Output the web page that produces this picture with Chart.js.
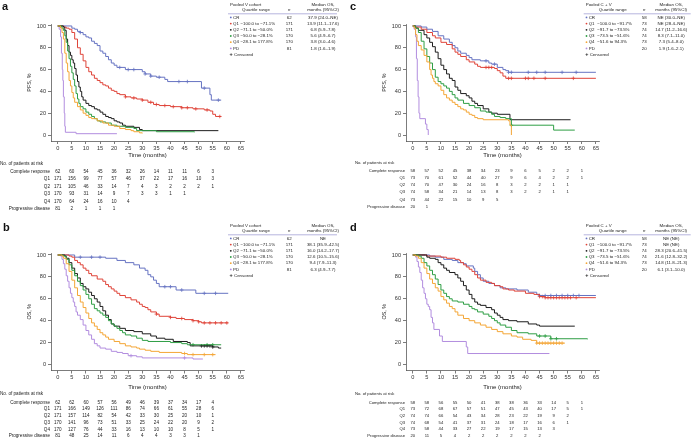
<!DOCTYPE html>
<html>
<head>
<meta charset="utf-8">
<script src="https://cdn.jsdelivr.net/npm/chart.js@4.4.0/dist/chart.umd.min.js"></script>
<style>
  html, body { margin: 0; padding: 0; background: #fff; }
  body { width: 691px; height: 442px; position: relative; overflow: hidden; }
  canvas { position: absolute; }
  #pa { left: 0; top: 0; }
  #pb { left: 0; top: 221px; }
  #pc { left: 345px; top: 0; }
  #pd { left: 345px; top: 221px; }
</style>
</head>
<body>
<canvas id="pa" width="345" height="221"></canvas>
<canvas id="pb" width="345" height="221"></canvas>
<canvas id="pc" width="346" height="221"></canvas>
<canvas id="pd" width="346" height="221"></canvas>
<script>
const FONT = '"Liberation Sans", Arial, Helvetica, sans-serif';

// groups and table text
const groups = ['CR', 'Q1', 'Q2', 'Q3', 'Q4', 'PD'];
const riskRows = ['Complete response', 'Q1', 'Q2', 'Q3', 'Q4', 'Progressive disease'];
const riskMonths = [0, 5, 10, 15, 20, 25, 30, 35, 40, 45, 50, 55, 60];
const rangesV = ['', '\u2212100.0 to \u221271.1%', '\u221271.1 to \u221250.0%', '\u221250.0 to \u221228.1%', '\u221228.1 to 177.8%', ''];
const rangesCV = ['', '\u2212100.0 to \u221291.7%', '\u221291.7 to \u221273.5%', '\u221273.5 to \u221251.6%', '\u221251.6 to 94.3%', ''];
const nV = [62, 171, 171, 170, 170, 81];
const nCV = [58, 73, 74, 74, 73, 20];
const medPfsV = ['37.9 (24.0\u2013NE)', '13.9 (11.1\u201317.6)', '6.8 (5.9\u20137.8)', '5.6 (4.9\u20136.7)', '3.8 (3.0\u20134.6)', '1.8 (1.6\u20131.9)'];
const medOsV = ['NE', '38.1 (35.9\u201342.5)', '16.0 (14.2\u201317.7)', '12.6 (10.5\u201315.6)', '9.4 (7.9\u201311.3)', '6.3 (4.9\u20137.7)'];
const medPfsCV = ['NE (30.0\u2013NE)', 'NE (28.4\u2013NE)', '14.7 (11.2\u201316.6)', '8.3 (7.1\u201311.0)', '7.3 (5.4\u20138.0)', '1.9 (1.6\u20132.1)'];
const medOsCV = ['NE (NE)', 'NE (NE)', '28.3 (20.6\u201341.5)', '21.6 (12.8\u201332.2)', '14.8 (11.8\u201321.3)', '6.1 (3.1\u201310.0)'];

// numbers at risk
const riskPfsV = [
  [62, 60, 54, 45, 36, 32, 26, 14, 11, 11, 6, 3],
  [171, 156, 99, 77, 57, 46, 37, 22, 17, 16, 10, 3],
  [171, 105, 46, 33, 14, 7, 4, 3, 2, 2, 2, 1],
  [170, 93, 31, 14, 9, 7, 3, 3, 1, 1],
  [170, 64, 24, 16, 10, 4],
  [81, 2, 1, 1, 1]
];
const riskOsV = [
  [62, 62, 60, 57, 56, 49, 46, 39, 37, 34, 17, 4],
  [171, 166, 149, 126, 111, 86, 74, 66, 61, 55, 28, 6],
  [171, 157, 114, 82, 54, 42, 33, 30, 25, 20, 10, 1],
  [170, 141, 96, 73, 51, 33, 25, 24, 22, 20, 9, 2],
  [170, 127, 76, 44, 33, 16, 13, 10, 10, 8, 5, 1],
  [81, 48, 25, 14, 11, 6, 4, 4, 3, 3, 1]
];
const riskPfsCV = [
  [58, 57, 52, 45, 38, 34, 23, 9, 6, 5, 2, 2, 1],
  [73, 70, 61, 52, 44, 40, 27, 9, 6, 4, 2, 2, 1],
  [74, 70, 47, 30, 24, 16, 8, 3, 2, 2, 1, 1],
  [74, 58, 34, 21, 14, 13, 8, 3, 2, 2, 1, 1],
  [73, 44, 22, 15, 10, 9, 5],
  [20, 1]
];
const riskOsCV = [
  [58, 58, 56, 55, 50, 41, 38, 38, 36, 33, 14, 5, 1],
  [73, 72, 68, 67, 57, 51, 47, 45, 43, 40, 17, 5, 1],
  [74, 74, 66, 54, 43, 34, 28, 23, 22, 19, 9, 2],
  [74, 68, 54, 41, 37, 31, 24, 18, 17, 16, 6, 1],
  [73, 58, 44, 33, 27, 22, 19, 17, 15, 13, 3],
  [20, 11, 5, 4, 2, 2, 2, 2, 2, 2]
];

// Kaplan-Meier steps [month, %], panel a: PFS, pooled V
const aCR = [[0,100],[5,98],[6,97],[7,95],[8,94],[9,92],[10,90],[11,89],[12,86],[13,84],[14,82],[15,77],[16,75],[17,72],[18,69],[19,66],[20,64],[21,62],[24,60],[30,58],[31,56],[33,54],[35,53],[38,51],[39,49],[51,43],[54,37],[54.5,32],[58,32]];
const aQ1 = [[0,100],[2,99],[3,98],[4,97],[5,94],[6,88],[7,80],[8,74],[9,68],[10,62],[11,58],[12,55],[13,52],[14,50],[15,48],[16,46],[17,45],[18,43],[19,41],[20,40],[21,38],[22,37],[24,35],[26,34],[28,33],[30,32],[32,30],[34,28],[36,27],[40,26],[44,25],[48,24],[52,23],[54,22],[55,19],[56,17],[58,17]];
const aQ2 = [[0,100],[2,99],[2.5,96],[3,88],[3.5,82],[4,76],[4.5,73],[5,69],[5.5,66],[6,61],[6.5,55],[7,49],[7.5,44],[8,40],[8.5,35],[9,32],[10,29],[11,27],[12,26],[13,24],[14,23],[15,21],[16,19],[17,17],[18,16],[19,15],[20,13],[21,12],[22,11],[23,9],[24,8],[27,7],[29,5],[30,4],[57,4]];
const aQ3 = [[0,100],[1.5,98],[2,96],[2.5,91],[3,85],[3.5,77],[4,70],[4.5,63],[5,57],[5.5,51],[6,45],[6.5,38],[7,33],[7.5,29],[8,26],[9,24],[10,21],[11,19],[12,17],[13,15],[14,13],[15,12],[17,11],[19,9],[21,8],[24,7],[27,6],[28,4],[35,3],[48.5,2.5]];
const aQ4 = [[0,100],[1,98],[1.5,94],[2,88],[2.5,75],[3,66],[3.5,58],[4,50],[4.5,45],[5,39],[5.5,34],[6,30],[7,26],[8,23],[9,20],[10,18],[11,16],[12,15],[14,13],[16,11],[18,9],[20,8],[22,6],[24,5],[26,4],[27,3],[29,2],[30,1.5]];
const aPD = [[0,100],[0.5,97],[1,90],[1.3,75],[1.6,60],[1.8,50],[2,35],[2.3,20],[2.5,8],[2.7,2.5],[6.5,1.2],[21,1.2]];

// panel b: OS, pooled V
const bCR = [[0,100],[5,100],[6,98],[17,97],[21,95],[24,93],[27,91],[29,88],[31,86],[32,82],[33,80],[34,77],[35,74],[36,71],[42,68],[49,65],[60.5,65]];
const bQ1 = [[0,100],[4,99],[5,98],[6,95],[7,93],[8,91],[9,88],[10,86],[11,83],[12,81],[14,78],[16,76],[17,73],[18,71],[19,69],[20,67],[21,65],[22,63],[24,61],[26,59],[28,57],[29,55],[30,53],[31,52],[32,50],[33,48],[35,46],[36,44],[40,43],[42,42],[45,41],[48,40],[50,39],[51,38],[60.5,38]];
const bQ2 = [[0,100],[2.5,99],[3,97],[4,93],[5,88],[6,83],[7,79],[8,74],[9,71],[10,69],[11,66],[12,63],[13,60],[14,57],[15,53],[16,49],[17,45],[18,41],[19,37],[20,35],[22,33],[24,31],[27,30],[30,28],[33,26],[35,24],[38,23],[41,21],[46,20],[47,17],[55,16],[57,15],[58,15]];
const bQ3 = [[0,100],[2,99],[3,96],[4,91],[5,86],[6,81],[7,76],[8,72],[9,68],[10,64],[11,60],[12,55],[13,51],[14,49],[15,47],[16,45],[17,43],[18,40],[19,37],[20,35],[21,33],[22,31],[23,29],[24,27],[26,26],[28,24],[30,22],[32,21],[40,20],[44,19],[46,18],[58,18]];
const bQ4 = [[0,100],[1.5,99],[2,97],[3,92],[4,85],[5,77],[6,70],[7,63],[8,57],[9,52],[10,47],[11,42],[12,38],[13,35],[14,32],[15,29],[16,27],[17,25],[18,23],[20,21],[22,19],[24,17],[26,16],[28,15],[29,14],[31,13],[33,12],[36,11],[44,10],[46,9],[56,9]];
const bPD = [[0,100],[1,99],[1.5,96],[2,92],[2.5,87],[3,81],[3.5,76],[4,70],[4.5,65],[5,61],[5.5,57],[6,53],[6.5,48],[7,45],[8,41],[9,36],[10,31],[11,27],[12,23],[13,19],[14,17],[15,15],[17,14],[19,12],[21,11],[23,10],[25,8],[28,7],[30,6],[47,6],[48,5],[51.5,5]];

// panel c: PFS, pooled C + V
const cCR = [[0,100],[3,99],[5,97],[7,95],[9,91],[11,88],[13,85],[14,82],[15,80],[16,77],[17,75],[19,73],[20,71],[21,69],[24,68],[27,66],[28,65],[30,62],[32,60],[33,59],[34,57.5],[65,57.5]];
const cQ1 = [[0,100],[1,99],[3,97],[5,94],[7,91],[8,89],[10,85],[12,83],[14,79],[15,76],[16,74],[17,72],[19,69],[20,67],[22,65],[23,63],[24,62],[29,61],[30,59],[31,57],[32,54],[33,52],[65,52]];
const cQ2 = [[0,100],[1,98],[2,96],[4,92],[5,89],[6,85],[7,81],[8,76],[9,70],[10,64],[11,60],[12,56],[13,52],[14,50],[15,44],[16,41],[17,38],[19,36],[20,34],[21,31],[22,29],[23,27],[25,24],[27,21],[28,20],[30,19],[34.5,14],[56,14]];
const cQ3 = [[0,100],[1,98],[2,94],[3,86],[4,79],[5,72],[6,66],[7,60],[8,53],[9,49],[10,47],[11,45],[12,43],[13,40],[14,37],[15,34],[16,32],[18,29],[20,27],[22,25],[24,22],[26,21],[28,19],[29,17],[31,16],[33,15],[35,9],[50,4.5],[57.5,4.5]];
const cQ4 = [[0,100],[0.5,98],[1,92],[1.5,86],[2,82],[3,78],[4,73],[5,67],[6,60],[6.5,55],[7,52],[7.5,49],[8,47],[9,45],[10,41],[11,37],[12,34],[13,32],[14,30],[15,28],[16,26],[17,24],[18,23],[19,21],[20,19],[21,18],[22,16],[23,15],[25,14],[34,13],[34.5,9],[35,0]];
const cPD = [[0,100],[0.5,97],[1,90],[1.3,70],[1.6,50],[1.9,35],[2.2,20],[2.5,15],[4.5,10],[5,5],[5.5,0]];

// panel d: OS, pooled C + V
const dCR = [[0,100],[6,99],[8,98],[11,96],[14,95],[16,93],[18,92],[19,90],[21.5,88],[22,85],[23,82],[24,79],[25,76],[27,74],[29,72],[31,70],[33,69],[37,68],[41,66],[44,64],[45,63],[65,63]];
const dQ1 = [[0,100],[3,100],[5,99],[10,98],[12,97],[15,96],[16.5,95],[17,93],[18,91],[19,89],[20,87],[21,85],[22,82],[23,79],[24,77],[26,75],[28,74],[29,72],[31,71],[32,69],[34,68],[36,67],[40,65],[43,64],[45,62],[47,61],[65,61]];
const dQ2 = [[0,100],[4.5,100],[5,98],[6,97],[8,96],[9,93],[10,91],[11,88],[12,86],[13,84],[15,82],[16,79],[17,76],[18,72],[19,68],[20,64],[21,60],[22,57],[23,55],[24,54],[26,52],[28,50],[29,47],[30,45],[31,43],[32,41],[34,40],[37,39],[41,37],[44,36],[45,35],[57.5,35]];
const dQ3 = [[0,100],[2,99],[3,97],[4,93],[5,90],[6,86],[7,82],[8,78],[9,73],[10,68],[11,65],[12,62],[13,60],[14,58],[16,57],[18,55],[20,53],[21,51],[22,50],[23,48],[25,46],[27,44],[28,42],[29,40],[30,38],[31,36],[33,34],[35,31],[37,29],[41,28],[44,26],[49,23.5],[62,23]];
const dQ4 = [[0,100],[1,99],[2,97],[3,93],[4,88],[5,83],[6,78],[7,74],[8,70],[9,67],[10,62],[11,59],[12,56],[13,53],[14,51],[15,48],[16,45],[18,42],[20,40],[22,38],[24,36],[26,34],[28,32],[30,30],[32,28],[35,26],[37,25],[39,23],[42,22],[44,19.5],[54,19.5]];
const dPD = [[0,100],[1,98],[1.5,94],[2,89],[2.5,84],[3,77],[3.5,70],[4,65],[4.5,60],[5,55],[5.5,53],[6,50],[6.5,43],[7,38],[7.5,32],[9.5,26],[10.5,21],[19,16],[19.5,10],[48.5,10]];

// censoring times (months), [group index, times]
const aCens = [[0, [8, 22, 25, 27, 31, 33, 36, 43, 46, 52, 57]], [1, [24, 27, 30, 33, 35, 38, 41, 44, 46, 49, 53, 57.5]]];
const bCens = [[0, [8, 12, 15, 38, 40, 44, 52, 56]], [1, [35, 40, 44, 48, 50, 52, 54, 56, 58, 60]], [2, [51, 52, 53, 54, 55]], [3, [48, 53, 55]], [4, [45, 48, 52, 55]], [5, [26, 45]]];
const cCens = [[0, [26, 29, 34, 35, 41, 44, 47, 53, 58]], [1, [26, 27, 28, 34, 35, 40, 41, 43, 47, 57]], [3, [35]]];
const dCens = [[0, [45, 47, 49, 51, 53, 55, 57, 59]], [1, [45, 46, 47, 48, 49, 50, 51, 52, 53, 54, 55, 56, 58]], [3, [45, 47, 49, 51]], [4, [44, 45, 46, 47, 48, 49, 50, 51, 52, 53]]];

const colors = ['#6673c2', '#df4338', '#1c1c1c', '#2e9e44', '#f4a636', '#b28ddf'];
const drawOrder = [4, 3, 2, 1, 0, 5];

function stepAt(curve, t) {
  let v = curve[0][1];
  for (const [x, y] of curve) { if (x <= t) v = y; }
  return v;
}

function drawLegend(ctx, L) {
  const x0 = L.x;
  const f = L.font + 'px ' + FONT;
  ctx.fillStyle = '#222';
  ctx.textBaseline = 'middle';
  ctx.font = f;
  ctx.textAlign = 'left';
  ctx.fillText(L.title, x0, 5);
  ctx.textAlign = 'center';
  ctx.fillText('Quartile range', x0 + L.rangeHead, 10);
  ctx.fillText('Median OS,', x0 + L.medX, 5);
  ctx.fillText('months (95%CI)', x0 + L.medX, 10);
  ctx.font = 'italic ' + f;
  ctx.fillText('n', x0 + L.nX, 10);
  ctx.font = f;
  ctx.strokeStyle = '#a3a1d6';
  ctx.lineWidth = 0.8;
  ctx.beginPath();
  ctx.moveTo(x0 - 2, 13.8);
  ctx.lineTo(x0 + L.lineEnd, 13.8);
  ctx.stroke();
  groups.forEach((g, i) => {
    const y = 17.4 + i * 6.2;
    ctx.fillStyle = colors[i];
    ctx.beginPath();
    ctx.arc(x0 + 0.8, y, 0.9, 0, Math.PI * 2);
    ctx.fill();
    ctx.fillStyle = '#222';
    ctx.textAlign = 'left';
    ctx.fillText(g, x0 + 3, y);
    ctx.fillText(L.ranges[i], x0 + L.rangeX, y);
    ctx.textAlign = 'center';
    ctx.fillText(String(L.n[i]), x0 + L.nX, y);
    ctx.fillText(L.med[i], x0 + L.medX, y);
  });
  const yc = 17.4 + 6 * 6.2;
  ctx.textAlign = 'left';
  ctx.font = 'bold ' + (L.font + 1) + 'px ' + FONT;
  ctx.fillText('+', x0 - 0.5, yc);
  ctx.font = f;
  ctx.fillText('Censored', x0 + 4, yc);
}

function makePanel(id, p) {
  const canvas = document.getElementById(id);
  const W = canvas.width, H = canvas.height, xH = 24;
  const datasets = [];
  drawOrder.forEach(i => {
    datasets.push({
      data: p.curves[i].map(([x, y]) => ({ x, y })),
      borderColor: colors[i], borderWidth: 1, stepped: true,
      pointRadius: 0, fill: false
    });
  });
  p.cens.forEach(([i, times]) => {
    datasets.push({
      data: times.map(t => ({ x: t, y: stepAt(p.curves[i], t) })),
      showLine: false, pointStyle: 'cross', pointRadius: 1.8,
      pointBorderWidth: 0.8, pointBorderColor: colors[i], borderColor: colors[i]
    });
  });

  const textPlugin = {
    id: 'panelText',
    afterDraw(chart) {
      const ctx = chart.ctx, ca = chart.chartArea, xs = chart.scales.x;
      ctx.save();
      ctx.fillStyle = '#111';
      ctx.font = 'bold 11px ' + FONT;
      ctx.textAlign = 'left';
      ctx.textBaseline = 'top';
      ctx.fillText(p.letter, p.letterX, 1);
      drawLegend(ctx, p.legend);
      ctx.font = p.riskFont + 'px ' + FONT;
      ctx.fillStyle = '#222';
      ctx.textBaseline = 'middle';
      ctx.textAlign = 'left';
      ctx.fillText('No. of patients at risk', ca.left - 51, ca.bottom + p.riskNo);
      p.risk.forEach((row, r) => {
        const y = ca.bottom + p.riskY0 + r * p.riskStep;
        ctx.textAlign = 'right';
        ctx.fillText(riskRows[r], ca.left - 1, y);
        ctx.textAlign = 'center';
        row.forEach((v, k) => ctx.fillText(String(v), xs.getPixelForValue(riskMonths[k]), y));
      });
      ctx.restore();
    }
  };

  const tickFont = { size: 5.6, family: FONT };
  return new Chart(canvas.getContext('2d'), {
    type: 'line',
    data: { datasets },
    options: {
      responsive: false,
      animation: false,
      layout: { padding: { left: 0, top: p.area.top, right: W - p.area.right, bottom: H - p.area.bottom - xH } },
      plugins: { legend: { display: false }, tooltip: { enabled: false } },
      scales: {
        x: {
          type: 'linear', min: -2.4, max: 66.1,
          afterFit: s => { s.height = xH; },
          ticks: { stepSize: 5, includeBounds: false, font: tickFont, color: '#333', padding: 1, maxRotation: 0, autoSkip: false },
          grid: { drawOnChartArea: false, tickLength: 3, color: '#444', lineWidth: 0.7 },
          border: { color: '#444', width: 0.7 },
          title: { display: true, text: 'Time (months)', font: { size: 6, family: FONT }, color: '#222', padding: { top: 0, bottom: p.xTitlePad } }
        },
        y: {
          type: 'linear', min: -5.5, max: 101.8,
          afterFit: s => { s.width = p.area.left; },
          ticks: { stepSize: 20, includeBounds: false, font: tickFont, color: '#333', padding: 2 },
          grid: { drawOnChartArea: false, tickLength: 3, color: '#444', lineWidth: 0.7 },
          border: { color: '#444', width: 0.7 },
          title: { display: true, text: p.yTitle, font: { size: 5.4, family: FONT }, color: '#222', padding: { top: p.yTitlePad, bottom: 0 } }
        }
      }
    },
    plugins: [textPlugin]
  });
}

const legendV = { x: 230, font: 4.4, rangeHead: 26, rangeX: 10.5, nX: 59.3, medX: 93, lineEnd: 107, ranges: rangesV, n: nV };
const legendCV = { x: 240.7, font: 4.4, rangeHead: 27, rangeX: 11.6, nX: 58.6, medX: 85.5, lineEnd: 105, ranges: rangesCV, n: nCV };

makePanel('pa', {
  letter: 'a', letterX: 2, yTitle: 'PFS, %', yTitlePad: 26, xTitlePad: 6,
  area: { left: 51, top: 24, right: 244, bottom: 141 },
  curves: [aCR, aQ1, aQ2, aQ3, aQ4, aPD], cens: aCens,
  legend: Object.assign({}, legendV, { title: 'Pooled V cohort', med: medPfsV }),
  risk: riskPfsV, riskFont: 4.6, riskNo: 22.3, riskY0: 30.7, riskStep: 7.4
});
makePanel('pb', {
  letter: 'b', letterX: 3, yTitle: 'OS, %', yTitlePad: 26, xTitlePad: 4,
  area: { left: 51, top: 32, right: 244, bottom: 149.5 },
  curves: [bCR, bQ1, bQ2, bQ3, bQ4, bPD], cens: bCens,
  legend: Object.assign({}, legendV, { title: 'Pooled V cohort', med: medOsV }),
  risk: riskOsV, riskFont: 4.6, riskNo: 23.5, riskY0: 32, riskStep: 6.7
});
makePanel('pc', {
  letter: 'c', letterX: 5, yTitle: 'PFS, %', yTitlePad: 36, xTitlePad: 6,
  area: { left: 61, top: 24, right: 254, bottom: 141 },
  curves: [cCR, cQ1, cQ2, cQ3, cQ4, cPD], cens: cCens,
  legend: Object.assign({}, legendCV, { title: 'Pooled C + V', med: medPfsCV }),
  risk: riskPfsCV, riskFont: 4.2, riskNo: 22.3, riskY0: 30, riskStep: 7.1
});
makePanel('pd', {
  letter: 'd', letterX: 5, yTitle: 'OS, %', yTitlePad: 36, xTitlePad: 4,
  area: { left: 61, top: 32, right: 254, bottom: 149.5 },
  curves: [dCR, dQ1, dQ2, dQ3, dQ4, dPD], cens: dCens,
  legend: Object.assign({}, legendCV, { title: 'Pooled C + V', med: medOsCV }),
  risk: riskOsCV, riskFont: 4.2, riskNo: 23.5, riskY0: 32, riskStep: 6.7
});
</script>
</body>
</html>
